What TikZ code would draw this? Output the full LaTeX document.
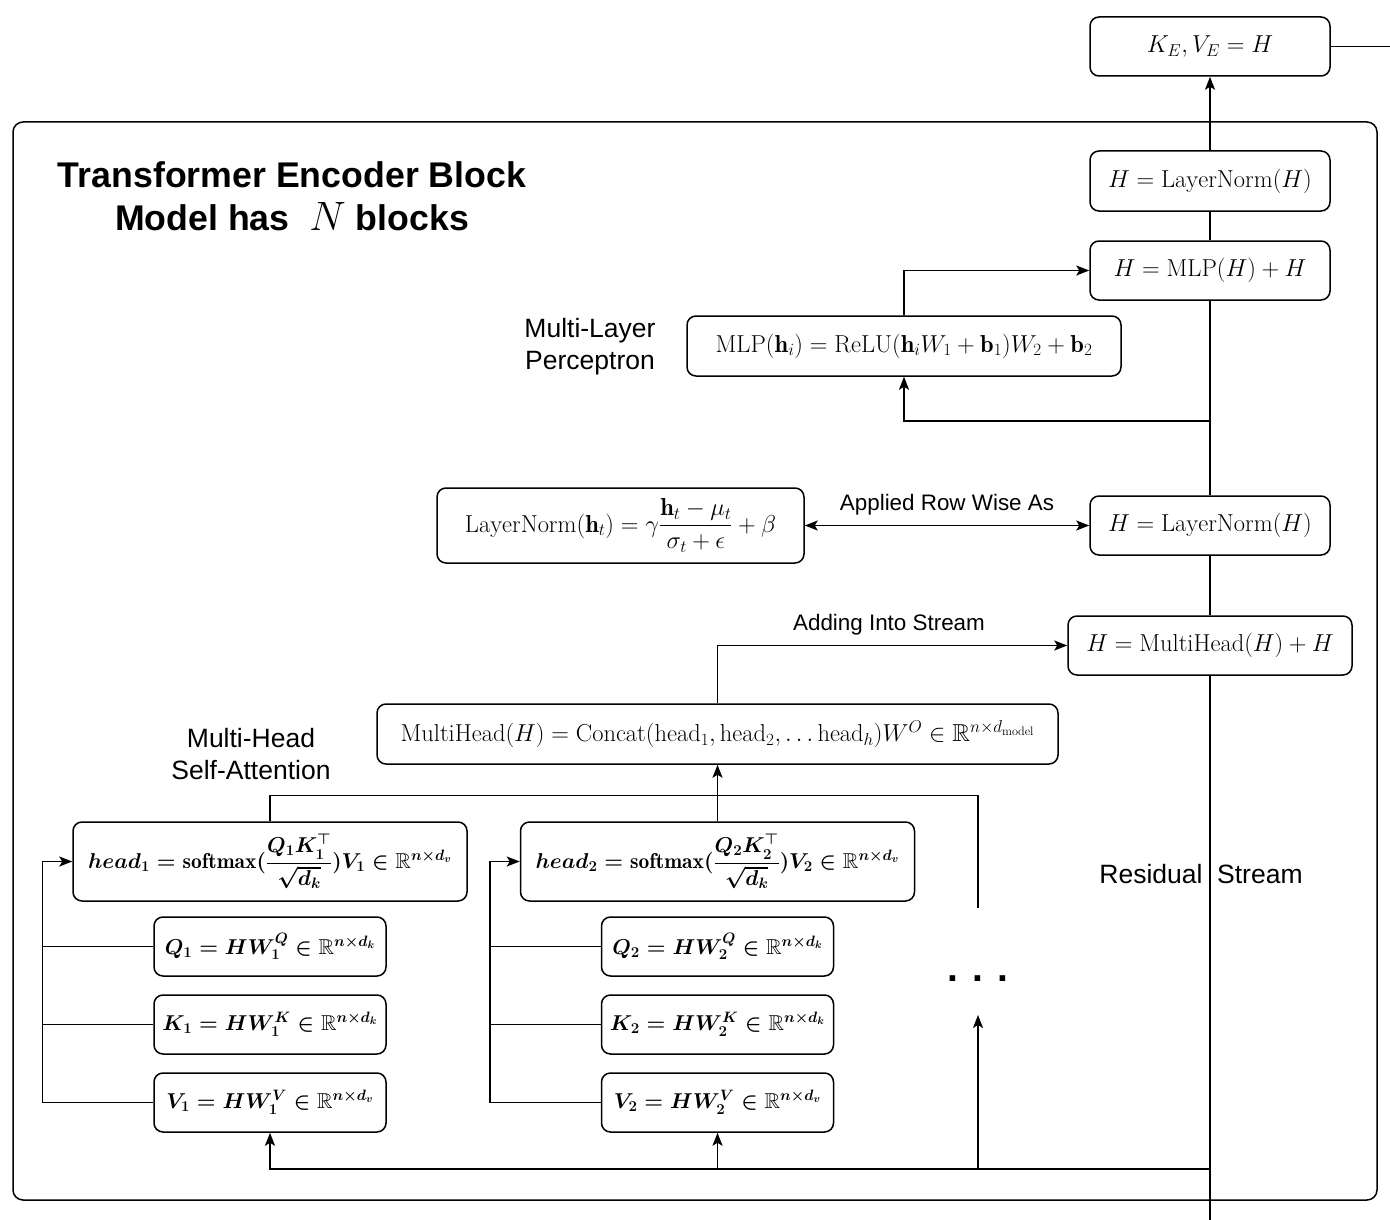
\RequirePackage{fix-cm}
\documentclass[tikz,border=0pt]{standalone}
\usepackage{amsmath,amssymb}
\usepackage{fontspec}
\setsansfont{Liberation Sans}
\usetikzlibrary{arrows.meta}

\newcommand{\eqsize}{\fontsize{24.5}{29}\selectfont}
\newcommand{\headsize}{\fontsize{21.5}{26}\selectfont\boldmath}

\begin{document}
\begin{tikzpicture}[x=1pt,y=-1pt,
    eqbox/.style={draw=black, line width=1.5pt, rounded corners=9pt, fill=white,
                  inner sep=0pt, minimum height=59pt, font=\eqsize},
    headbox/.style={eqbox, font=\headsize},
    sidelbl/.style={font=\sffamily\fontsize{26.5}{32}\selectfont, align=center, inner sep=0pt},
    arrlbl/.style={font=\sffamily\fontsize{22.4}{27}\selectfont, inner sep=0pt},
    conn/.style={line width=1.5pt},
    >={Stealth[length=13pt,width=10pt,inset=3pt]}]
    \useasboundingbox (0,0) rectangle (1390,1220);
    % Encoder frame
    \node[draw, line width=1.5pt, rounded corners=10pt, inner sep=0pt,
          minimum width=1364pt, minimum height=1078pt] (enc) at (695,661) {};
    \node[font=\sffamily\bfseries\fontsize{35.7}{43}\selectfont, align=center,
          inner sep=0pt] (title) at (292,196)
          {Transformer Encoder Block\\Model has~ {\fontsize{41}{43}\selectfont$N$} blocks};
    % Residual stream boxes
    \node[eqbox, minimum width=240pt] (KE) at (1210,46.5) {$K_E, V_E = H$};
    \node[eqbox, minimum width=240pt, minimum height=60pt] (LNtop) at (1210,181) {$H = \mathrm{LayerNorm}(H)$};
    \node[eqbox, minimum width=240pt] (MLPadd) at (1210,270.5) {$H = \mathrm{MLP}(H) + H$};
    \node[eqbox, minimum width=240pt] (LNmid) at (1210,525.5) {$H = \mathrm{LayerNorm}(H)$};
    \node[eqbox, minimum width=284pt] (MHadd) at (1210,645.5) {$H = \mathrm{MultiHead}(H) + H$};
    \node[sidelbl] (reslbl) at (1201,874) {Residual~~Stream};
    % MLP
    \node[eqbox, minimum width=434pt, minimum height=60pt] (mlp) at (904,346)
          {$\mathrm{MLP}(\mathbf{h}_i) = \mathrm{ReLU}(\mathbf{h}_i W_1 + \mathbf{b}_1) W_2 + \mathbf{b}_2$};
    \node[sidelbl] (mlplbl) at (590,347) {Multi-Layer\\Perceptron};
    % LayerNorm
    \node[eqbox, minimum width=367pt, minimum height=75pt] (lnf) at (620.5,525.5)
          {$\mathrm{LayerNorm}(\mathbf{h}_t) = \gamma\dfrac{\mathbf{h}_t - \mu_t}{\sigma_t + \epsilon} + \beta$};
    \node[arrlbl] (rowlbl) at (947,505) {Applied Row Wise As};
    % Multi-head
    \node[eqbox, minimum width=681pt, minimum height=60pt] (mh) at (717.5,734)
          {$\mathrm{MultiHead}(H) = \mathrm{Concat}(\mathrm{head}_1, \mathrm{head}_2, \ldots \mathrm{head}_h) W^O \in \mathbb{R}^{n\times d_{\mathrm{model}}}$};
    \node[sidelbl] (mhlbl) at (251,754) {Multi-Head\\Self-Attention};
    \node[arrlbl] (addlbl) at (889,625) {Adding Into Stream};
    % Heads
    \foreach \i/\x in {1/270,2/717.5}{
        \node[headbox, minimum width=394pt, minimum height=79pt] (head\i) at (\x,861.5)
              {$head_\i = \mathrm{softmax}(\dfrac{Q_\i K_\i^\top}{\sqrt{d_k}}) V_\i \in \mathbb{R}^{n\times d_v}$};
        \node[headbox, minimum width=232pt] (q\i) at (\x,946.5) {$Q_\i = HW_\i^Q \in \mathbb{R}^{n\times d_k}$};
        \node[headbox, minimum width=232pt] (k\i) at (\x,1024.5) {$K_\i = HW_\i^K \in \mathbb{R}^{n\times d_k}$};
        \node[headbox, minimum width=232pt] (v\i) at (\x,1102.5) {$V_\i = HW_\i^V \in \mathbb{R}^{n\times d_v}$};
        \draw[conn, ->] (v\i.west) -- ++(-111,0) |- (head\i.west);
        \draw[conn] (q\i.west) -- ++(-111,0);
        \draw[conn] (k\i.west) -- ++(-111,0);
    }
    \node[font=\sffamily\bfseries\fontsize{39}{43}\selectfont, inner sep=0pt] (dots) at (978,979) {. . .};
    \coordinate (dotsin) at (978,1015);
    \coordinate (dotsout) at (978,908);
    % Residual stream
    \coordinate (resin) at (1210,1220);
    \coordinate (tap) at (1210,1169);
    \coordinate (mlptap) at (1210,421);
    \coordinate (keout) at (1390,46.5);
    \draw[conn] (resin) -- (MHadd.south);
    \draw[conn] (MHadd.north) -- (LNmid.south);
    \draw[conn] (LNmid.north) -- (MLPadd.south);
    \draw[conn] (MLPadd.north) -- (LNtop.south);
    \draw[conn, ->] (LNtop.north) -- (KE.south);
    \draw[conn] (KE.east) -- (keout);
    % Inputs into heads
    \draw[conn, ->] (tap) -| (v1.south);
    \draw[conn, ->] (tap -| v2.south) -- (v2.south);
    \draw[conn, ->] (tap -| dotsin) -- (dotsin);
    % Heads into multi-head
    \draw[conn] (head1.north) -- ++(0,-26) -| (dotsout);
    \draw[conn, ->] (head2.north) -- (mh.south);
    \draw[conn, ->] (mh.north) |- (MHadd.west);
    % Layer norm
    \draw[conn, <->] (lnf.east) -- (LNmid.west);
    % MLP
    \draw[conn, ->] (mlptap) -| (mlp.south);
    \draw[conn, ->] (mlp.north) |- (MLPadd.west);
\end{tikzpicture}
\end{document}
